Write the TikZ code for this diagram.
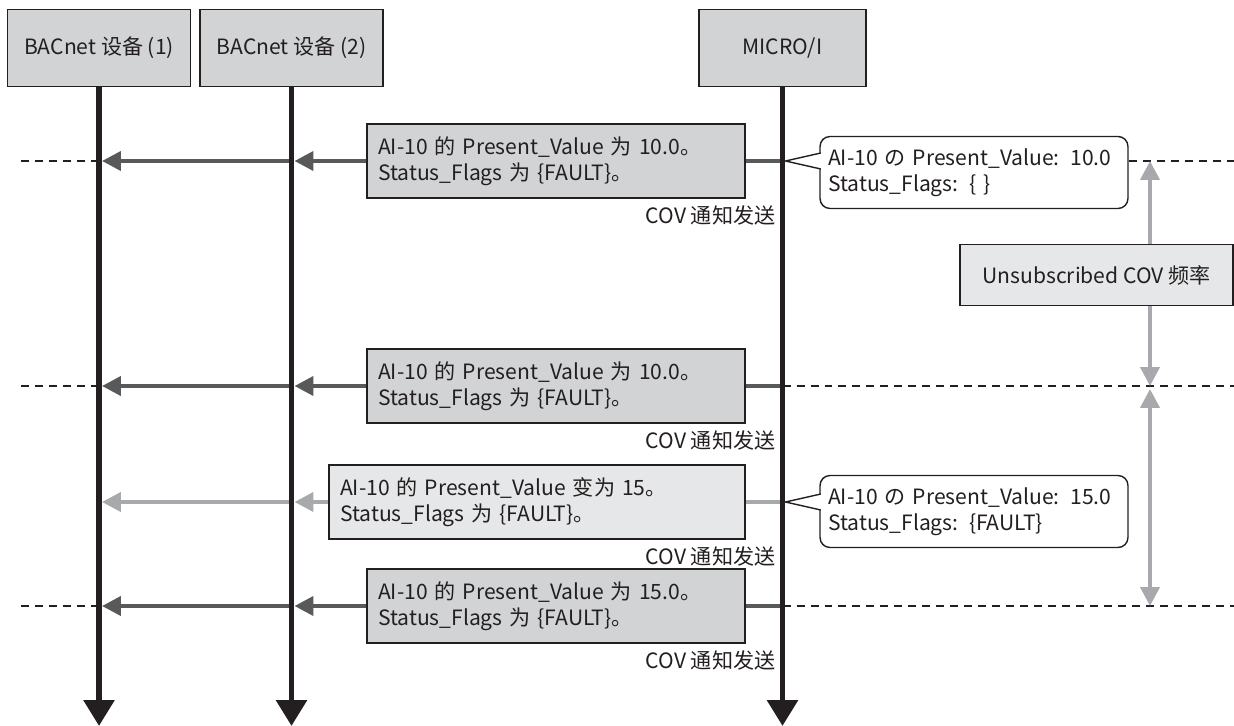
\documentclass[tikz,border=0pt]{standalone}
\usepackage{fontspec}
\setmainfont{Noto Sans CJK SC}
\usetikzlibrary{arrows.meta,positioning,calc}
\definecolor{inkdark}{HTML}{231F20}
\definecolor{boxgray}{HTML}{D1D3D4}
\definecolor{boxlight}{HTML}{E6E7E8}
\definecolor{msgdark}{HTML}{58595B}
\definecolor{msglight}{HTML}{A7A9AC}

\begin{document}
\begin{tikzpicture}[
  x=0.02cm, y=-0.02cm,
  every node/.style={font=\fontsize{12}{14.6}\selectfont, text=inkdark},
  head/.style={rectangle, draw=inkdark, line width=0.8pt, fill=boxgray,
               minimum width=3.66cm, minimum height=1.54cm},
  msg/.style={rectangle, draw=inkdark, line width=0.8pt, fill=boxgray,
              text width=7.12cm, inner xsep=0.22cm, minimum height=1.48cm, align=left},
  msglt/.style={msg, fill=boxlight, text width=7.88cm},
  memo/.style={rectangle, rounded corners=0.2cm, draw=inkdark, line width=0.8pt, fill=white,
               text width=5.84cm, inner xsep=0.16cm, minimum height=1.44cm, align=left},
  cov/.style={inner sep=0pt},
  life/.style={line width=3.4pt, draw=inkdark, -{Triangle[width=0.6cm,length=0.52cm]}},
  ln/.style={line width=2.3pt, draw=msgdark},
  ar/.style={ln, -{Triangle[width=0.38cm,length=0.38cm]}, shorten >=0.06cm},
  arlt/.style={ar, draw=msglight},
  lvl/.style={dash pattern=on 0.16cm off 0.12cm, line width=0.6pt, draw=inkdark},
  fr/.style={line width=2.3pt, draw=msglight, >={Triangle[width=0.38cm,length=0.38cm]}},
  tip/.style={fill=white, draw=inkdark, line width=0.8pt}
]
  \useasboundingbox (0,0) rectangle (1234,726);
  \coordinate (bot) at (0,726);
  \coordinate (edge) at (1234,0);
  \coordinate (fx) at (1150,0);

  % lifeline heads
  \node[head] (d1) at (99,48) {BACnet 设备 (1)};
  \node[head] (d2) at (291.5,48) {BACnet 设备 (2)};
  \node[head, minimum width=3.34cm] (mi) at (782.5,48) {MICRO/I};

  % COV notifications
  \node[msg] (m1) at (556,161) {AI-10 的 Present\_Value 为 10.0。\\Status\_Flags 为 \{FAULT\}。};
  \node[msg] (m2) at (556,386) {AI-10 的 Present\_Value 为 10.0。\\Status\_Flags 为 \{FAULT\}。};
  \node[msglt] (m3) at (537,502) {AI-10 的 Present\_Value 变为 15。\\Status\_Flags 为 \{FAULT\}。};
  \node[msg] (m4) at (556,606) {AI-10 的 Present\_Value 为 15.0。\\Status\_Flags 为 \{FAULT\}。};
  \foreach \m in {m1,m2,m3,m4}
    \node[cov, below left=0.14cm and -0.6cm of \m.south east] {COV 通知发送};

  \foreach \m in {m1,m2,m4} {
    \draw[ln] (\m.east -| mi) -- (\m.east);
    \draw[ar] (\m.west) -- (\m.west -| d2);
    \draw[ar] (\m.west -| d2) -- (\m.west -| d1);
    \draw[lvl] (\m -| d1) -- ++(-80,0);
  }
  \draw[ln, draw=msglight] (m3.east -| mi) -- (m3.east);
  \draw[arlt] (m3.west) -- (m3.west -| d2);
  \draw[arlt] (m3.west -| d2) -- (m3.west -| d1);

  % lifelines
  \foreach \d in {d1,d2,mi}
    \draw[life] (\d.south) -- (\d.south |- bot);

  % property values
  \node[memo] (k1) at (974,172.5) {AI-10 の Present\_Value: 10.0\\Status\_Flags: \{ \}};
  \node[memo] (k2) at (974,511.5) {AI-10 の Present\_Value: 15.0\\Status\_Flags: \{FAULT\}};
  \filldraw[tip] ($(k1.west |- m1)+(1.5,-8)$) -- ($(m1 -| mi)+(3,0)$) -- ($(k1.west |- m1)+(1.5,8)$);
  \filldraw[tip] ($(k2.west |- m3)+(1.5,-8)$) -- ($(m3 -| mi)+(3,0)$) -- ($(k2.west |- m3)+(1.5,8)$);

  % levels and frequency
  \draw[lvl] (k1.east |- m1) -- (m1 -| edge);
  \draw[lvl] (m2 -| mi) -- (m2 -| edge);
  \draw[lvl] (m4 -| mi) -- (m4 -| edge);
  \node[rectangle, draw=inkdark, line width=0.8pt, fill=boxlight,
        minimum width=5.46cm, minimum height=1.22cm] (fq) at (1096.5,275) {Unsubscribed COV 频率};
  \draw[fr, ->] (fq.north -| fx) -- (m1 -| fx);
  \draw[fr, ->] (fq.south -| fx) -- (m2 -| fx);
  \draw[fr, <->] ($(m2 -| fx)+(0,3)$) -- (m4 -| fx);
\end{tikzpicture}
\end{document}
